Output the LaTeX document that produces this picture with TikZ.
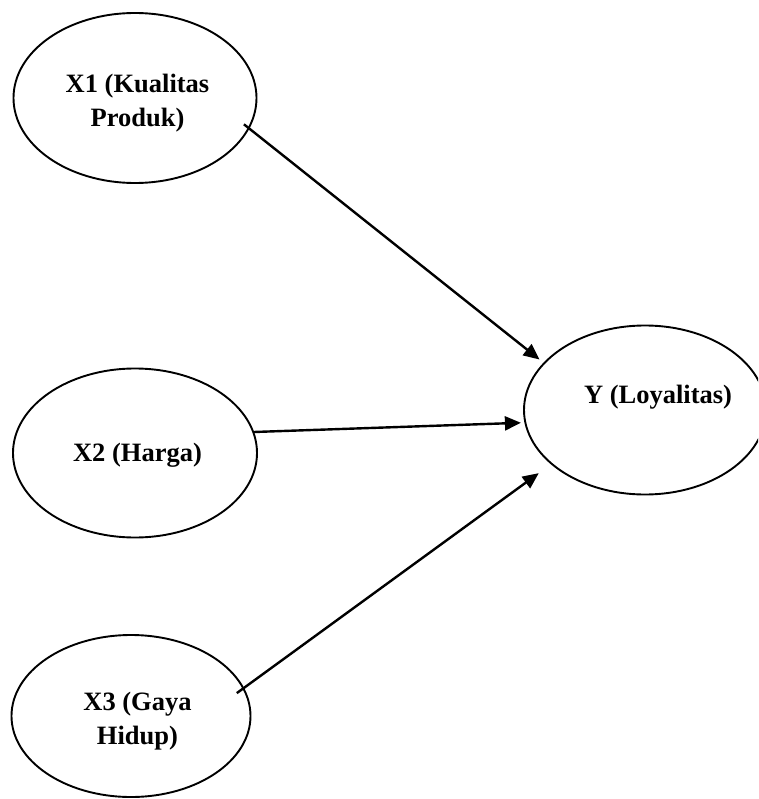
\documentclass[tikz,border=0pt]{standalone}
\usepackage{fontspec}
\setmainfont{Liberation Serif}
\usetikzlibrary{shapes.geometric,arrows.meta,calc}
\begin{document}
\begin{tikzpicture}[x=1pt,y=-1pt,
  oval/.style={draw=black, line width=1.9pt, ellipse, inner sep=0pt},
  lbl/.style={font=\fontsize{26.5}{33.5}\selectfont\bfseries, align=center, inner sep=0pt, text=black},
  arr/.style={draw=black, line width=2.4pt, -{Triangle[length=16pt,width=14pt]}}]
\useasboundingbox (0,0) rectangle (758,799);
\fill[white] (0,0) rectangle (758,799);
\clip (0,0) rectangle (758,799);
\node (x1) [oval, minimum width=243pt, minimum height=170pt,
  label={[lbl, xshift=2.5pt, yshift=-5pt]center:{X1 (Kualitas\\Produk)}}] at (135,98) {};
\node (x2) [oval, minimum width=244pt, minimum height=169pt,
  label={[lbl, xshift=2.5pt, yshift=-2pt]center:{X2 (Harga)}}] at (135,453) {};
\node (x3) [oval, minimum width=239pt, minimum height=162pt,
  label={[lbl, xshift=6.5pt, yshift=-5pt]center:{X3 (Gaya\\Hidup)}}] at (131,716) {};
\node (y) [oval, minimum width=242pt, minimum height=169pt,
  label={[lbl, xshift=13pt, yshift=13pt]center:{Y (Loyalitas)}}] at (645,410) {};
\draw[arr, shorten >=5pt] ($(x1.-15)!-7pt!(y.155)$) -- (y.155);
\draw[arr, shorten >=3.5pt] (x2.10.6) -- (y.186.5);
\draw[arr, shorten >=15pt] ($(x3.14.5)!-9pt!(y.210.6)$) -- (y.210.6);
\end{tikzpicture}
\end{document}
